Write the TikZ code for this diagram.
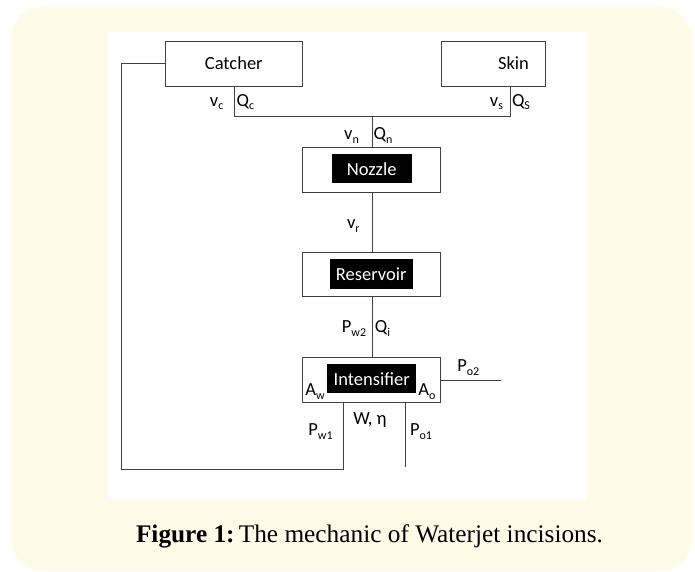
\documentclass[tikz,border=0pt]{standalone}
\usepackage{fontspec}
\setmainfont{Liberation Serif}
\newfontfamily\diagfont{Carlito}
\definecolor{cream}{HTML}{FFFBE8}
\newcommand\lsub[1]{\raisebox{-0.45ex}{\fontsize{12}{13}\selectfont #1}}
\begin{document}
\begin{tikzpicture}[x=1pt,y=-1pt,
  wire/.style={draw=black!75,line width=0.9pt},
  box/.style={draw=black!75,line width=0.9pt,fill=white},
  blk/.style={fill=black,text=white,inner sep=0pt,font=\diagfont\fontsize{18.5}{21}\selectfont},
  lbl/.style={font=\diagfont\fontsize{18.5}{21}\selectfont,inner sep=0pt},
  sl/.style={lbl,anchor=base}]
\useasboundingbox (0,0) rectangle (695,571);
\fill[cream,rounded corners=30pt] (11.7,6.7) rectangle (691,570.7);
\fill[white] (108.3,31.7) rectangle (586.7,499);
% boxes
\node[box,minimum width=137pt,minimum height=45pt,inner sep=0pt,lbl] (catcher) at (233.8,63.5) {Catcher};
\node[box,minimum width=104pt,minimum height=45pt,inner sep=0pt,lbl,anchor=west] (skin) at (440.7,63.5) {};
\node[lbl] (skintext) at (513.5,63.5) {Skin};
\node[box,minimum width=138pt,minimum height=45pt,inner sep=0pt] (nozzle) at (371.7,169.5) {};
\node[blk,minimum width=80pt,minimum height=29pt] (nozzlet) at (371.7,168.8) {Nozzle};
\node[box,minimum width=138pt,minimum height=44.5pt,inner sep=0pt] (res) at (371.7,274.5) {};
\node[blk,minimum width=82.7pt,minimum height=29.7pt] (rest) at (371.3,274.2) {Reservoir};
\node[box,minimum width=138pt,minimum height=45.3pt,inner sep=0pt] (int) at (371.7,379.7) {};
\node[blk,minimum width=88.7pt,minimum height=29pt] (intt) at (371.7,378.8) {Intensifier};
% coordinates
\coordinate (jc) at (234,116.3);
\coordinate (js) at (510,116.3);
\coordinate (jn) at (372.3,116.3);
\coordinate (tl) at (121.7,63.5);
\coordinate (bl) at (121.7,469.3);
\coordinate (br) at (343.3,469.3);
\coordinate (po2) at (500.7,380.3);
\coordinate (po1) at (405,466.7);
% wires
\draw[wire] (catcher.west) -- (tl) -- (bl) -- (br) -- (int.south -| br);
\draw[wire] (catcher.south -| jc) -- (jc) -- (js) -- (skin.south -| js);
\draw[wire] (jn) -- (nozzle.north -| jn);
\draw[wire] (nozzle.south -| jn) -- (res.north -| jn);
\draw[wire] (res.south -| jn) -- (int.north -| jn);
\draw[wire] (int.east |- po2) -- (po2);
\draw[wire] (int.south -| po1) -- (po1);
% labels
\node[sl] (vc) at (216.7,106) {v\lsub{c}};
\node[sl] (qc) at (245.5,106) {Q\lsub{c}};
\node[sl] (vs) at (496.5,106) {v\lsub{s}};
\node[sl] (qs) at (521,106) {Q\lsub{S}};
\node[sl] (vn) at (351.5,139.5) {v\lsub{n}};
\node[sl] (qn) at (383,139.5) {Q\lsub{n}};
\node[sl] (vr) at (353.3,228.5) {v\lsub{r}};
\node[sl] (pw2) at (354,332.7) {P\lsub{w2}};
\node[sl] (qi) at (382.5,332.7) {Q\lsub{i}};
\node[sl] (aw) at (315,395.3) {A\lsub{w}};
\node[sl] (ao) at (427,395.3) {A\lsub{o}};
\node[sl] (po2l) at (468.3,371.7) {P\lsub{o2}};
\node[sl] (weta) at (370,424) {W, η};
\node[sl] (pw1) at (320.5,435.5) {P\lsub{w1}};
\node[sl] (po1l) at (421,435.5) {P\lsub{o1}};
% caption
\node[inner sep=0pt] (cap) at (369.5,536) {\resizebox{467pt}{!}{\fontsize{22}{26}\selectfont\textbf{Figure 1:}\,The mechanic of Waterjet incisions.}};
\end{tikzpicture}
\end{document}
